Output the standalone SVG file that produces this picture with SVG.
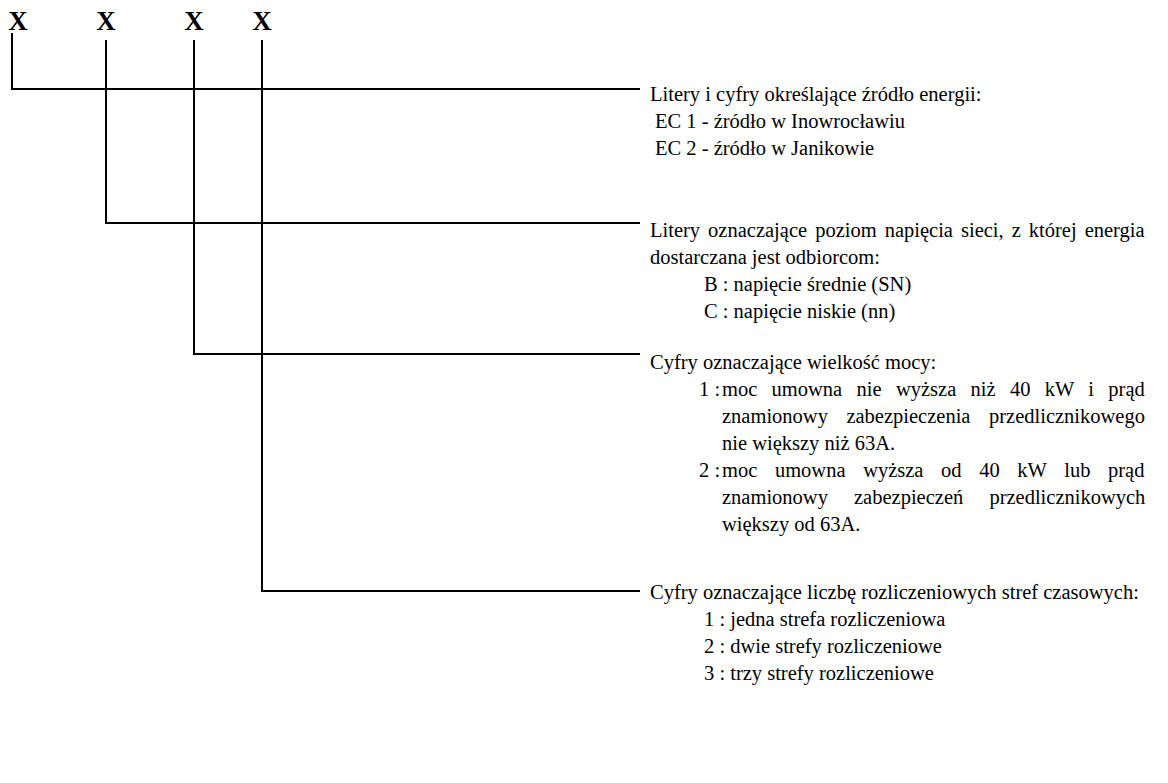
<svg xmlns="http://www.w3.org/2000/svg" width="1168" height="783" viewBox="0 0 1168 783">
<style>
.t{font-family:"Liberation Serif","Times New Roman",serif;font-size:20.5px;fill:#000}
.x{font-family:"Liberation Serif","Times New Roman",serif;font-size:27px;font-weight:bold;fill:#000;text-anchor:middle}
.c{fill:none;stroke:#000;stroke-width:2}
</style>
<rect width="1168" height="783" fill="#fff"/>
<g id="letters">
<text class="x" x="18" y="30">X</text>
<text class="x" x="106" y="30">X</text>
<text class="x" x="194" y="30">X</text>
<text class="x" x="262" y="30">X</text>
</g>
<g id="connectors">
<path class="c" d="M12,33 V89 H640"/>
<path class="c" d="M106,40 V223 H640"/>
<path class="c" d="M194,40 V354 H640"/>
<path class="c" d="M262,40 V591 H640"/>
</g>
<g id="node1">
<text class="t" x="650" y="101">Litery i cyfry określające źródło energii:</text>
<text class="t" x="655" y="128">EC 1 - źródło w Inowrocławiu</text>
<text class="t" x="655" y="155">EC 2 - źródło w Janikowie</text>
</g>
<g id="node2">
<text class="t" x="650" y="237" word-spacing="2.9">Litery oznaczające poziom napięcia sieci, z której energia</text>
<text class="t" x="650" y="264">dostarczana jest odbiorcom:</text>
<text class="t" x="704" y="291">B : napięcie średnie (SN)</text>
<text class="t" x="704" y="318">C : napięcie niskie (nn)</text>
</g>
<g id="node3">
<text class="t" x="650" y="369">Cyfry oznaczające wielkość mocy:</text>
<text class="t" x="699" y="396">1 :</text>
<text class="t" x="722" y="396" word-spacing="9.2">moc umowna nie wyższa niż 40 kW i prąd</text>
<text class="t" x="722" y="423" word-spacing="13.4">znamionowy zabezpieczenia przedlicznikowego</text>
<text class="t" x="722" y="450">nie większy niż 63A.</text>
<text class="t" x="699" y="477">2 :</text>
<text class="t" x="722" y="477" word-spacing="12.5">moc umowna wyższa od 40 kW lub prąd</text>
<text class="t" x="722" y="504" word-spacing="21">znamionowy zabezpieczeń przedlicznikowych</text>
<text class="t" x="722" y="531">większy od 63A.</text>
</g>
<g id="node4">
<text class="t" x="650" y="599">Cyfry oznaczające liczbę rozliczeniowych stref czasowych:</text>
<text class="t" x="704" y="626">1 : jedna strefa rozliczeniowa</text>
<text class="t" x="704" y="653">2 : dwie strefy rozliczeniowe</text>
<text class="t" x="704" y="680">3 : trzy strefy rozliczeniowe</text>
</g>
</svg>
